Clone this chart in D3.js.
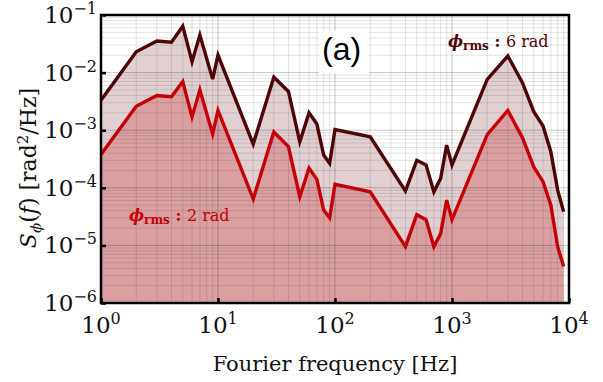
<!DOCTYPE html>
<html>
<head>
<meta charset="utf-8">
<script src="https://cdn.jsdelivr.net/npm/d3@7"></script>
<style>
  body { margin: 0; background: #fff; }
  text { font-family: "DejaVu Serif", serif; }
</style>
</head>
<body>
<div id="chart"></div>
<script>
// frequencies [Hz]
var freq = [1, 2, 3, 4, 5, 6, 7, 9, 10, 20, 30, 40, 50, 60, 70, 80, 90, 100, 200,
            400, 500, 600, 700, 800, 900, 1000, 2000, 3000, 4000, 5000, 6000, 7000, 8000, 9000];

// phi_rms = 6 rad
var psd6 = [3.3e-3, 0.023, 0.0354, 0.0336, 0.064, 0.0155, 0.045, 0.0077, 0.0202, 5.75e-4,
            8.3e-3, 4.7e-3, 6.3e-4, 2.0e-3, 1.28e-3, 3.7e-4, 2.66e-4, 1.03e-3, 7.7e-4,
            8.8e-5, 3.0e-4, 2.5e-4, 8.5e-5, 1.46e-4, 5.5e-4, 2.5e-4, 7.6e-3, 0.0194,
            6.7e-3, 2.1e-3, 1.18e-3, 4.2e-4, 9.1e-5, 3.85e-5];

// phi_rms = 2 rad
var psd2 = [3.8e-4, 2.6e-3, 4.0e-3, 3.8e-3, 7.0e-3, 1.7e-3, 5.0e-3, 8.6e-4, 2.2e-3, 6.4e-5,
            9.3e-4, 5.2e-4, 7.0e-5, 2.2e-4, 1.4e-4, 4.1e-5, 3.0e-5, 1.15e-4, 8.5e-5,
            9.5e-6, 3.4e-5, 2.8e-5, 9.5e-6, 1.6e-5, 6.1e-5, 2.8e-5, 8.4e-4, 2.2e-3,
            7.4e-4, 2.3e-4, 1.28e-4, 5.0e-5, 9.5e-6, 4.3e-6];

var xTicks = [1, 10, 100, 1000, 10000],
    xTickExp = ["0", "1", "2", "3", "4"];
var yTicks = [1e-1, 1e-2, 1e-3, 1e-4, 1e-5, 1e-6],
    yTickExp = ["\u22121", "\u22122", "\u22123", "\u22124", "\u22125", "\u22126"];

var margin = {top: 15, right: 34, bottom: 79, left: 101},
    width = 603 - margin.left - margin.right,
    height = 382 - margin.top - margin.bottom;

var x = d3.scaleLog().domain([1, 1e4]).range([0, width]);
var y = d3.scaleLog().domain([1e-6, 1e-1]).range([height, 0]);

var svg = d3.select("#chart").append("svg")
    .attr("width", 603)
    .attr("height", 382);

var g = svg.append("g")
    .attr("transform", "translate(" + margin.left + "," + margin.top + ")");

var data6 = freq.map(function(f, i) { return [f, psd6[i]]; }),
    data2 = freq.map(function(f, i) { return [f, psd2[i]]; });

var area = d3.area()
    .x(function(d) { return x(d[0]); })
    .y0(height)
    .y1(function(d) { return y(d[1]); });

var line = d3.line()
    .x(function(d) { return x(d[0]); })
    .y(function(d) { return y(d[1]); });

// fills
g.append("path").datum(data6)
    .attr("d", area)
    .attr("fill", "rgb(120,40,45)")
    .attr("fill-opacity", 0.22);

g.append("path").datum(data2)
    .attr("d", area)
    .attr("fill", "rgb(200,30,35)")
    .attr("fill-opacity", 0.27);

// grid (minor + major)
var xMinor = [], yMinor = [];
for (var e = 0; e < 4; e++)
    for (var k = 2; k < 10; k++) xMinor.push(k * Math.pow(10, e));
for (var e2 = -6; e2 < -1; e2++)
    for (var k2 = 2; k2 < 10; k2++) yMinor.push(k2 * Math.pow(10, e2));

var grid = g.append("g").attr("class", "grid");
grid.selectAll(".xminor").data(xMinor).enter().append("line")
    .attr("x1", x).attr("x2", x).attr("y1", 0).attr("y2", height)
    .attr("stroke", "rgba(0,0,0,0.11)").attr("stroke-width", 1);
grid.selectAll(".yminor").data(yMinor).enter().append("line")
    .attr("y1", y).attr("y2", y).attr("x1", 0).attr("x2", width)
    .attr("stroke", "rgba(0,0,0,0.11)").attr("stroke-width", 1);
grid.selectAll(".xmajor").data(xTicks).enter().append("line")
    .attr("x1", x).attr("x2", x).attr("y1", 0).attr("y2", height)
    .attr("stroke", "rgba(0,0,0,0.22)").attr("stroke-width", 1);
grid.selectAll(".ymajor").data(yTicks).enter().append("line")
    .attr("y1", y).attr("y2", y).attr("x1", 0).attr("x2", width)
    .attr("stroke", "rgba(0,0,0,0.22)").attr("stroke-width", 1);

// white box behind panel tag
g.append("rect")
    .attr("x", 218).attr("y", 16).attr("width", 50).attr("height", 42)
    .attr("fill", "#fff");

// lines
g.append("path").datum(data6)
    .attr("d", line)
    .attr("fill", "none")
    .attr("stroke", "#4e0508")
    .attr("stroke-width", 3.4)
    .attr("stroke-linejoin", "miter");

g.append("path").datum(data2)
    .attr("d", line)
    .attr("fill", "none")
    .attr("stroke", "#c40006")
    .attr("stroke-width", 3.4)
    .attr("stroke-linejoin", "miter");

// axes: inside major ticks, labels drawn separately
var xAxis = g.append("g")
    .attr("transform", "translate(0," + height + ")")
    .call(d3.axisBottom(x).tickValues(xTicks).tickSize(-5).tickFormat(""));
var yAxis = g.append("g")
    .call(d3.axisLeft(y).tickValues(yTicks).tickSize(-5).tickFormat(""));
[xAxis, yAxis].forEach(function(a) {
    a.select(".domain").remove();
    a.selectAll(".tick line").attr("stroke", "#000").attr("stroke-width", 2.5);
});

// frame
g.append("rect")
    .attr("width", width).attr("height", height)
    .attr("fill", "none")
    .attr("stroke", "#000")
    .attr("stroke-width", 2.5);

// tick labels
var xl = g.selectAll(".xlab").data(xTicks).enter().append("text")
    .attr("x", x).attr("y", height + 30)
    .attr("text-anchor", "middle")
    .attr("font-size", 23)
    .attr("fill", "#111");
xl.append("tspan").text("10");
xl.append("tspan").attr("dy", -9).attr("font-size", 16)
    .text(function(d, i) { return xTickExp[i]; });

var yl = g.selectAll(".ylab").data(yTicks).enter().append("text")
    .attr("x", -4).attr("y", function(d) { return y(d) + 8; })
    .attr("text-anchor", "end")
    .attr("font-size", 23)
    .attr("fill", "#111");
yl.append("tspan").text("10");
yl.append("tspan").attr("dy", -9).attr("font-size", 16)
    .text(function(d, i) { return yTickExp[i]; });

// axis titles
svg.append("text")
    .attr("x", margin.left + width / 2).attr("y", 371)
    .attr("text-anchor", "middle")
    .attr("font-size", 21)
    .attr("fill", "#111")
    .text("Fourier frequency [Hz]");

var yt = svg.append("text")
    .attr("transform", "translate(36," + 168 + ") rotate(-90)")
    .attr("text-anchor", "middle")
    .attr("font-size", 22)
    .attr("fill", "#111");
yt.append("tspan").attr("font-style", "italic").text("S");
yt.append("tspan").attr("font-style", "italic").attr("font-size", 15).attr("dy", 5).text("\u03d5");
yt.append("tspan").attr("dy", -5).text("(");
yt.append("tspan").attr("font-style", "italic").text("f");
yt.append("tspan").text(") [rad");
yt.append("tspan").attr("font-size", 15).attr("dy", -8).text("2");
yt.append("tspan").attr("dy", 8).text("/Hz]");

// panel tag
svg.append("text")
    .attr("x", 322).attr("y", 60)
    .style("font-family", "'Liberation Sans', Arial, sans-serif")
    .attr("font-size", 32)
    .attr("fill", "#000")
    .text("(a)");

// series labels
function seriesLabel(px, py, value, color) {
    var t = svg.append("text")
        .attr("x", px).attr("y", py)
        .attr("font-size", 16)
        .attr("fill", color);
    t.append("tspan").attr("font-weight", "bold").attr("font-style", "italic").text("\u03d5");
    t.append("tspan").attr("font-weight", "bold").attr("font-size", 12).attr("dy", 3).text("rms");
    t.append("tspan").attr("font-weight", "bold").attr("dy", -3).text(" : ");
    t.append("tspan").text(value + " rad");
}
seriesLabel(448, 47, 6, "#4e0508");
seriesLabel(129, 221, 2, "#c40006");
</script>
</body>
</html>
